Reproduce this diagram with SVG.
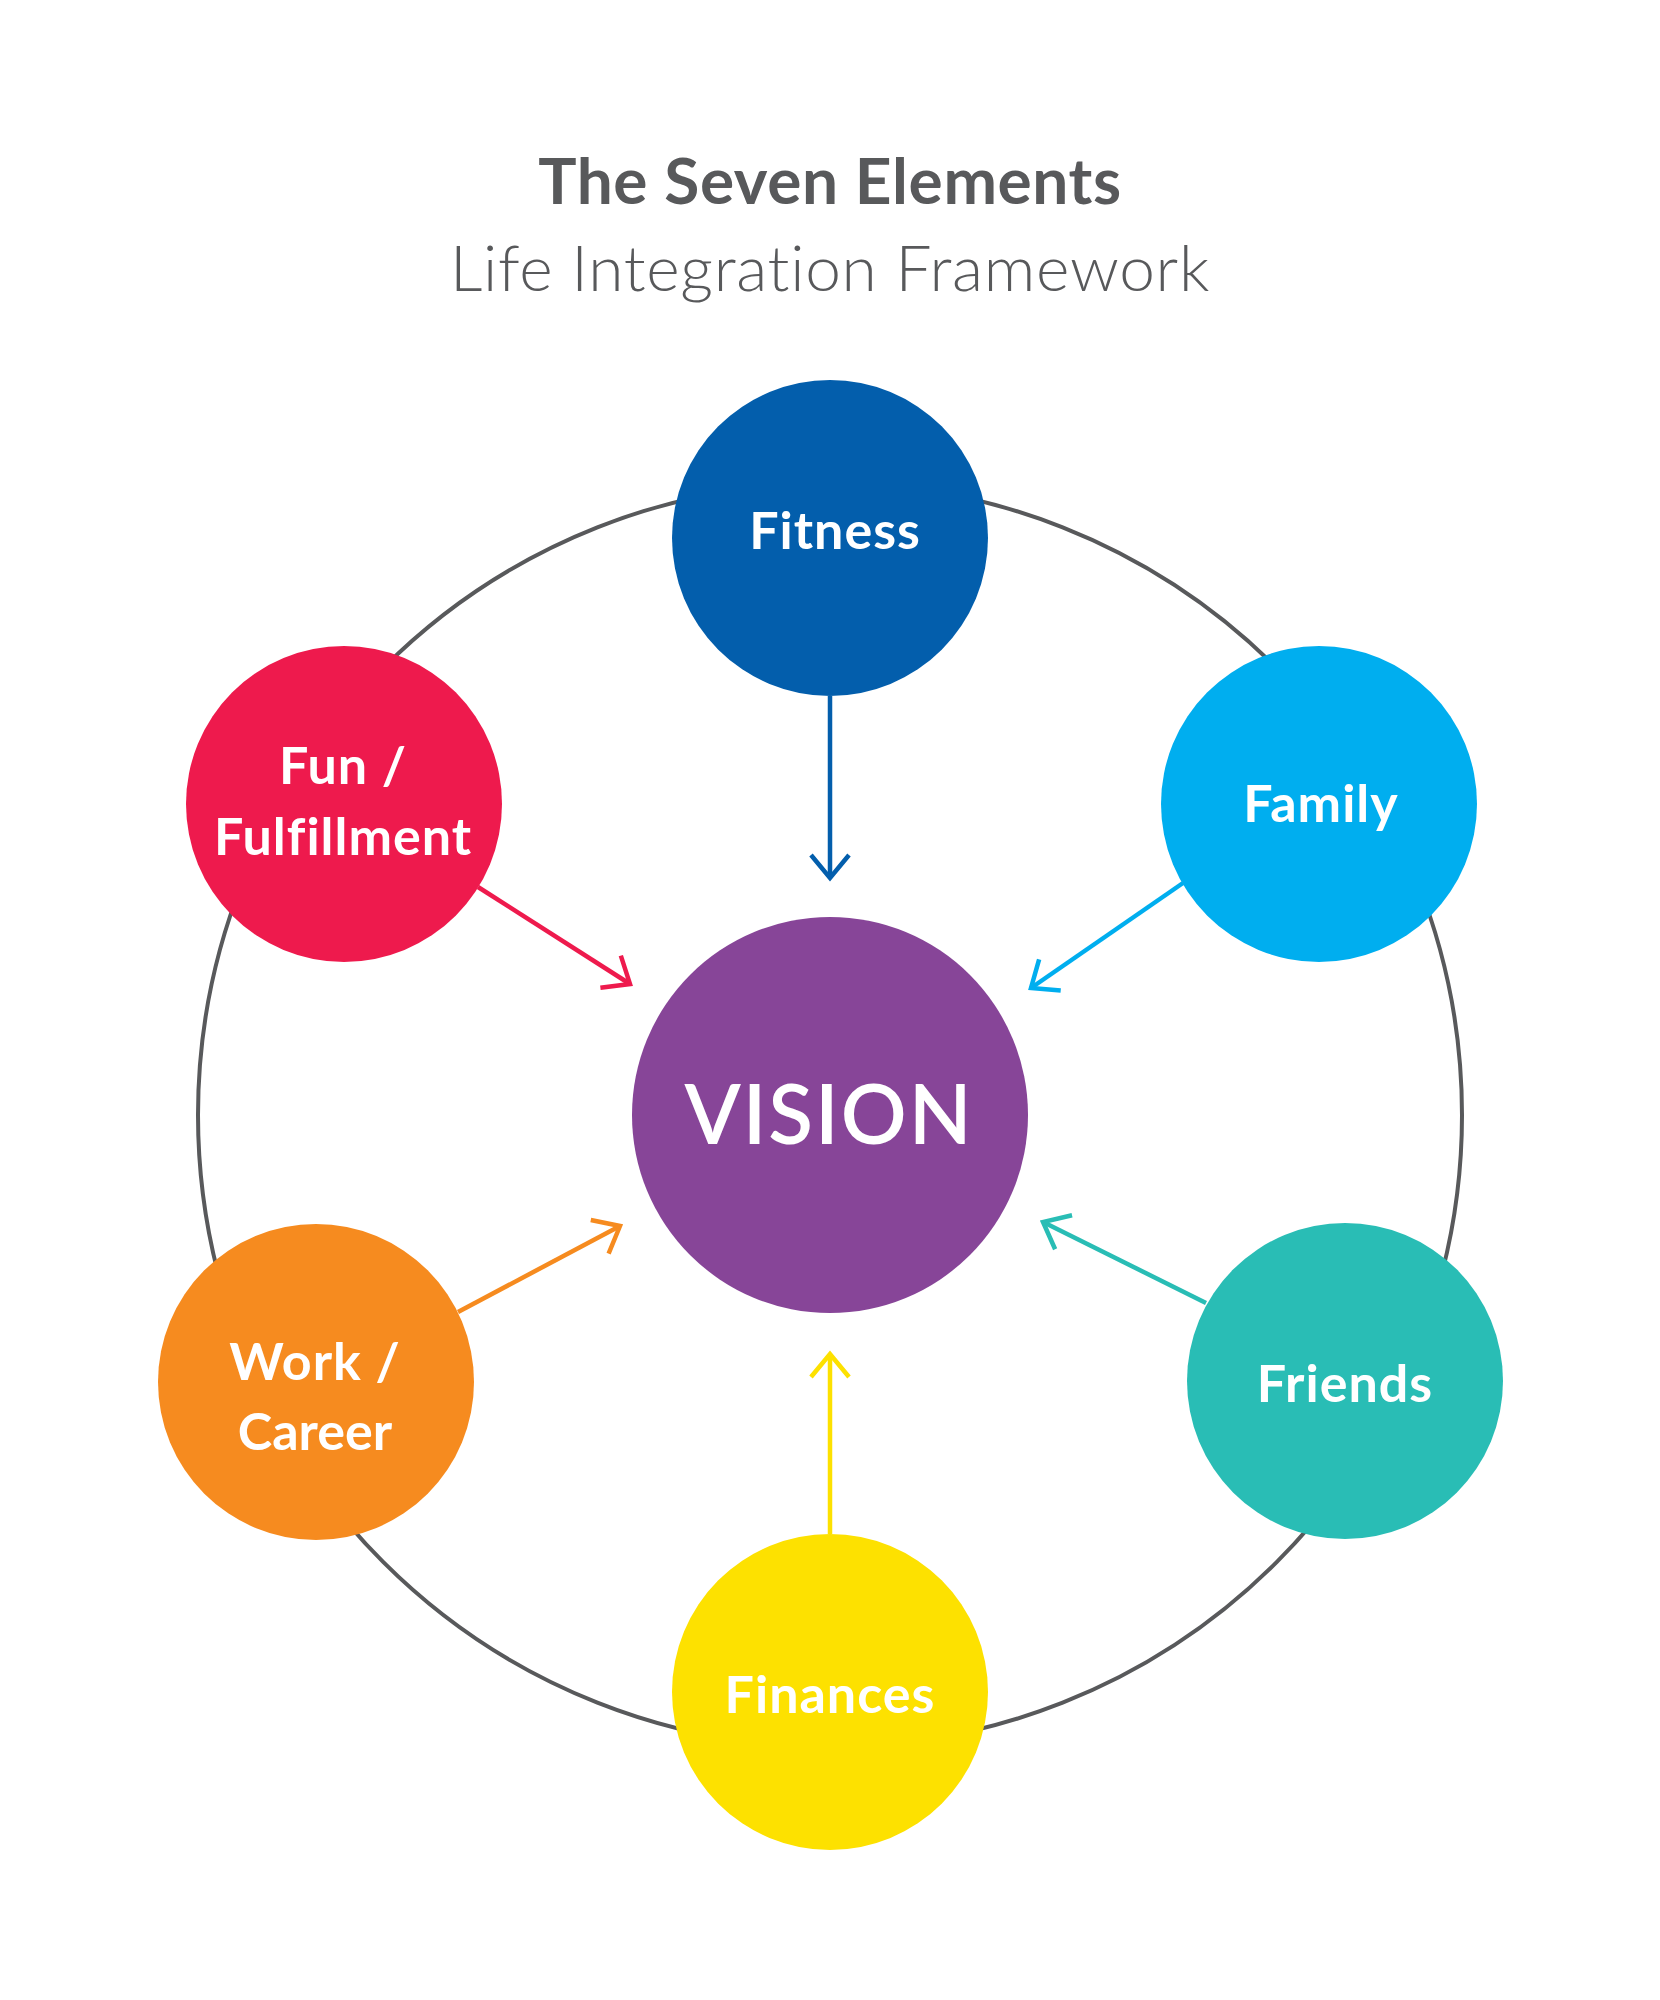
<svg xmlns="http://www.w3.org/2000/svg" width="1660" height="2000" viewBox="0 0 1660 2000">
  <style>
    text { font-variant-ligatures: none; font-feature-settings: "liga" 0, "dlig" 0; }
    .title { font-family: Lato, "Liberation Sans", sans-serif; fill: #58595B; text-anchor: middle; }
    .label { font-family: Lato, "Liberation Sans", sans-serif; font-weight: bold; fill: #FFFFFF; text-anchor: middle; font-size: 52px; letter-spacing: 1px; }
    .conn { fill: none; stroke-width: 4.5; }
  </style>
  <defs>
    <marker id="ah-fitness" markerUnits="userSpaceOnUse" markerWidth="60" markerHeight="60" viewBox="-30 -30 60 60" refX="0" refY="0" orient="auto" overflow="visible">
      <path d="M-23,-19 L0,0 L-23,19" fill="none" stroke="#035EAC" stroke-width="4.5"/>
    </marker>
    <marker id="ah-family" markerUnits="userSpaceOnUse" markerWidth="60" markerHeight="60" viewBox="-30 -30 60 60" refX="0" refY="0" orient="auto" overflow="visible">
      <path d="M-23,-19 L0,0 L-23,19" fill="none" stroke="#00AEEF" stroke-width="4.5"/>
    </marker>
    <marker id="ah-friends" markerUnits="userSpaceOnUse" markerWidth="60" markerHeight="60" viewBox="-30 -30 60 60" refX="0" refY="0" orient="auto" overflow="visible">
      <path d="M-23,-19 L0,0 L-23,19" fill="none" stroke="#29BDB5" stroke-width="4.5"/>
    </marker>
    <marker id="ah-finances" markerUnits="userSpaceOnUse" markerWidth="60" markerHeight="60" viewBox="-30 -30 60 60" refX="0" refY="0" orient="auto" overflow="visible">
      <path d="M-23,-19 L0,0 L-23,19" fill="none" stroke="#FDE100" stroke-width="4.5"/>
    </marker>
    <marker id="ah-work" markerUnits="userSpaceOnUse" markerWidth="60" markerHeight="60" viewBox="-30 -30 60 60" refX="0" refY="0" orient="auto" overflow="visible">
      <path d="M-23,-19 L0,0 L-23,19" fill="none" stroke="#F68B1F" stroke-width="4.5"/>
    </marker>
    <marker id="ah-fun" markerUnits="userSpaceOnUse" markerWidth="60" markerHeight="60" viewBox="-30 -30 60 60" refX="0" refY="0" orient="auto" overflow="visible">
      <path d="M-23,-19 L0,0 L-23,19" fill="none" stroke="#EE1A4D" stroke-width="4.5"/>
    </marker>
  </defs>
  <rect width="1660" height="2000" fill="#FFFFFF"/>

  <g id="title">
    <text class="title" x="830" y="204" font-size="64" font-weight="bold" letter-spacing="0.6">The Seven Elements</text>
    <text class="title" x="830" y="291" font-size="64" font-weight="300" letter-spacing="0.7">Life Integration Framework</text>
  </g>

  <g id="ring">
    <circle cx="830" cy="1115" r="632" fill="none" stroke="#58595B" stroke-width="4"/>
  </g>

  <g id="connectors">
    <line class="conn" stroke="#035EAC" x1="830" y1="696" x2="830" y2="878" marker-end="url(#ah-fitness)"/>
    <line class="conn" stroke="#00AEEF" x1="1183" y1="883" x2="1031" y2="988" marker-end="url(#ah-family)"/>
    <line class="conn" stroke="#29BDB5" x1="1206" y1="1303" x2="1043" y2="1222" marker-end="url(#ah-friends)"/>
    <line class="conn" stroke="#FDE100" x1="830" y1="1534" x2="830" y2="1354" marker-end="url(#ah-finances)"/>
    <line class="conn" stroke="#F68B1F" x1="458" y1="1312" x2="620" y2="1226" marker-end="url(#ah-work)"/>
    <line class="conn" stroke="#EE1A4D" x1="478" y1="887" x2="630" y2="984" marker-end="url(#ah-fun)"/>
  </g>

  <g id="vision">
    <circle cx="830" cy="1115" r="198" fill="#874598"/>
    <text class="label" x="829" y="1144" style="font-size:82px;font-weight:600;letter-spacing:2px">VISION</text>
  </g>
  <g id="fitness">
    <circle cx="830" cy="538" r="158" fill="#035EAC"/>
    <text class="label" x="835" y="549">Fitness</text>
  </g>
  <g id="family">
    <circle cx="1319" cy="804" r="158" fill="#00AEEF"/>
    <text class="label" x="1321" y="822">Family</text>
  </g>
  <g id="friends">
    <circle cx="1345" cy="1381" r="158" fill="#29BDB5"/>
    <text class="label" x="1345" y="1402">Friends</text>
  </g>
  <g id="finances">
    <circle cx="830" cy="1692" r="158" fill="#FDE100"/>
    <text class="label" x="830" y="1713">Finances</text>
  </g>
  <g id="work">
    <circle cx="316" cy="1382" r="158" fill="#F68B1F"/>
    <text class="label" x="315" y="1380">Work /</text>
    <text class="label" x="315" y="1450" style="letter-spacing:0px">Career</text>
  </g>
  <g id="fun">
    <circle cx="344" cy="804" r="158" fill="#EE1A4D"/>
    <text class="label" x="343" y="784">Fun /</text>
    <text class="label" x="343" y="855">Fulfillment</text>
  </g>
</svg>
